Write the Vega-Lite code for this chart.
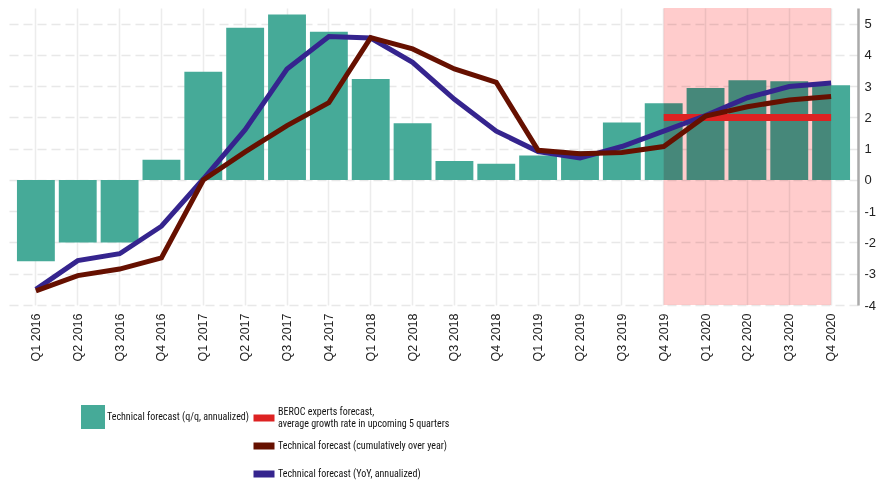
{
  "$schema": "https://vega.github.io/schema/vega-lite/v6.json",
  "description": "Technical forecast of GDP growth with BEROC experts forecast, Q1 2016 - Q4 2020.",
  "width": 849,
  "height": 297,
  "autosize": "none",
  "padding": {"left": 9, "top": 8, "right": 18, "bottom": 181},
  "background": "white",
  "data": {
    "values": [
      {"q": "Q1 2016", "qq": -2.6, "cum": -3.55, "yoy": -3.5},
      {"q": "Q2 2016", "qq": -2.0, "cum": -3.06, "yoy": -2.58},
      {"q": "Q3 2016", "qq": -2.0, "cum": -2.85, "yoy": -2.36},
      {"q": "Q4 2016", "qq": 0.65, "cum": -2.49, "yoy": -1.48},
      {"q": "Q1 2017", "qq": 3.46, "cum": 0.0, "yoy": 0.03},
      {"q": "Q2 2017", "qq": 4.87, "cum": 0.9, "yoy": 1.61},
      {"q": "Q3 2017", "qq": 5.29, "cum": 1.74, "yoy": 3.55},
      {"q": "Q4 2017", "qq": 4.74, "cum": 2.47, "yoy": 4.59},
      {"q": "Q1 2018", "qq": 3.23, "cum": 4.55, "yoy": 4.54},
      {"q": "Q2 2018", "qq": 1.81, "cum": 4.19, "yoy": 3.76},
      {"q": "Q3 2018", "qq": 0.61, "cum": 3.55, "yoy": 2.58},
      {"q": "Q4 2018", "qq": 0.52, "cum": 3.12, "yoy": 1.56},
      {"q": "Q1 2019", "qq": 0.78, "cum": 0.95, "yoy": 0.91},
      {"q": "Q2 2019", "qq": 0.92, "cum": 0.84, "yoy": 0.7},
      {"q": "Q3 2019", "qq": 1.84, "cum": 0.88, "yoy": 1.07},
      {"q": "Q4 2019", "qq": 2.45, "cum": 1.07, "yoy": 1.56},
      {"q": "Q1 2020", "qq": 2.94, "cum": 2.04, "yoy": 2.06},
      {"q": "Q2 2020", "qq": 3.19, "cum": 2.34, "yoy": 2.63},
      {"q": "Q3 2020", "qq": 3.16, "cum": 2.56, "yoy": 2.99},
      {"q": "Q4 2020", "qq": 3.03, "cum": 2.67, "yoy": 3.1}
    ]
  },
  "encoding": {
    "x": {
      "field": "q",
      "type": "ordinal",
      "sort": null,
      "title": null,
      "scale": {
        "domain": ["Q1 2016", "Q2 2016", "Q3 2016", "Q4 2016", "Q1 2017", "Q2 2017", "Q3 2017", "Q4 2017", "Q1 2018", "Q2 2018", "Q3 2018", "Q4 2018", "Q1 2019", "Q2 2019", "Q3 2019", "Q4 2019", "Q1 2020", "Q2 2020", "Q3 2020", "Q4 2020"],
        "paddingInner": 0.095,
        "paddingOuter": 0.19
      },
      "axis": {
        "labelAngle": -90,
        "labelPadding": 8,
        "domain": false,
        "ticks": false,
        "grid": true,
        "gridColor": "#ececec",
        "gridWidth": 1.5,
        "bandPosition": 0.5
      }
    }
  },
  "layer": [
    {
      "mark": {"type": "bar"},
      "encoding": {
        "y": {
          "field": "qq",
          "type": "quantitative",
          "title": null,
          "scale": {"domain": [-4, 5.5], "nice": false, "zero": false},
          "axis": {
            "orient": "right",
            "values": [-4, -3, -2, -1, 0, 1, 2, 3, 4, 5],
            "tickCount": 10,
            "labelOverlap": false,
            "labelExpr": "toString(datum.value)",
            "labelFontSize": 13,
            "domainColor": "#aaaaaa",
            "domainWidth": 2.5,
            "ticks": false,
            "labelPadding": 6,
            "grid": true,
            "gridColor": "#e8e8e8",
            "gridWidth": 1.5,
            "gridDash": [9, 5]
          }
        },
        "fill": {
          "datum": "Technical forecast (q/q, annualized)",
          "scale": {"range": ["#46aa98"]},
          "legend": {
            "orient": "none",
            "legendX": 72,
            "legendY": 397,
            "symbolType": "square",
            "symbolSize": 576,
            "symbolStrokeWidth": 0,
            "labelOffset": 2,
            "padding": 0
          }
        }
      }
    },
    {
      "data": {"values": [{"from": "Q4 2019", "to": "Q4 2020"}]},
      "mark": {"type": "rect", "color": "#ffcccc", "blend": "multiply"},
      "encoding": {
        "x": {"field": "from", "type": "ordinal", "bandPosition": 0.5},
        "x2": {"field": "to", "bandPosition": 0.5}
      }
    },
    {
      "data": {"values": [{"zero": 0}]},
      "mark": {"type": "rule", "color": "#aaaaaa", "strokeWidth": 3},
      "encoding": {"y": {"field": "zero", "type": "quantitative"}}
    },
    {
      "data": {"values": [{"q": "Q4 2019", "v": 2}, {"q": "Q4 2020", "v": 2}]},
      "mark": {"type": "line", "strokeWidth": 7, "strokeCap": "butt"},
      "encoding": {
        "y": {"field": "v", "type": "quantitative"},
        "stroke": {
          "datum": "BEROC experts forecast,| average growth rate in upcoming 5 quarters",
          "scale": {
            "domain": ["BEROC experts forecast,| average growth rate in upcoming 5 quarters", "Technical forecast (cumulatively over year)", "Technical forecast (YoY, annualized)"],
            "range": ["#dd2222", "#661000", "#35248e"]
          },
          "legend": {
            "orient": "none",
            "legendX": 241,
            "legendY": 396,
            "symbolType": "stroke",
            "symbolSize": 441,
            "symbolStrokeWidth": 7,
            "labelOffset": 0,
            "clipHeight": 28,
            "rowPadding": 0,
            "padding": 0,
            "labelExpr": "split(datum.label, '|')",
            "encode": {
              "labels": {"update": {"dy": {"signal": "indexof(datum.label, '|') >= 0 ? -6 : 0"}}}
            }
          }
        }
      }
    },
    {
      "mark": {"type": "line", "strokeWidth": 5, "strokeCap": "butt", "strokeJoin": "miter"},
      "encoding": {
        "y": {"field": "yoy", "type": "quantitative"},
        "stroke": {"datum": "Technical forecast (YoY, annualized)"}
      }
    },
    {
      "mark": {"type": "line", "strokeWidth": 5, "strokeCap": "butt", "strokeJoin": "miter"},
      "encoding": {
        "y": {"field": "cum", "type": "quantitative"},
        "stroke": {"datum": "Technical forecast (cumulatively over year)"}
      }
    }
  ],
  "config": {
    "view": {"stroke": null},
    "font": "Liberation Sans",
    "axis": {"labelFontSize": 12.5, "labelColor": "#222222"},
    "axisY": {"tickCount": 10},
    "legend": {
      "labelFont": "Roboto Condensed",
      "labelFontSize": 10,
      "labelColor": "#111111",
      "labelLimit": 400
    }
  }
}
